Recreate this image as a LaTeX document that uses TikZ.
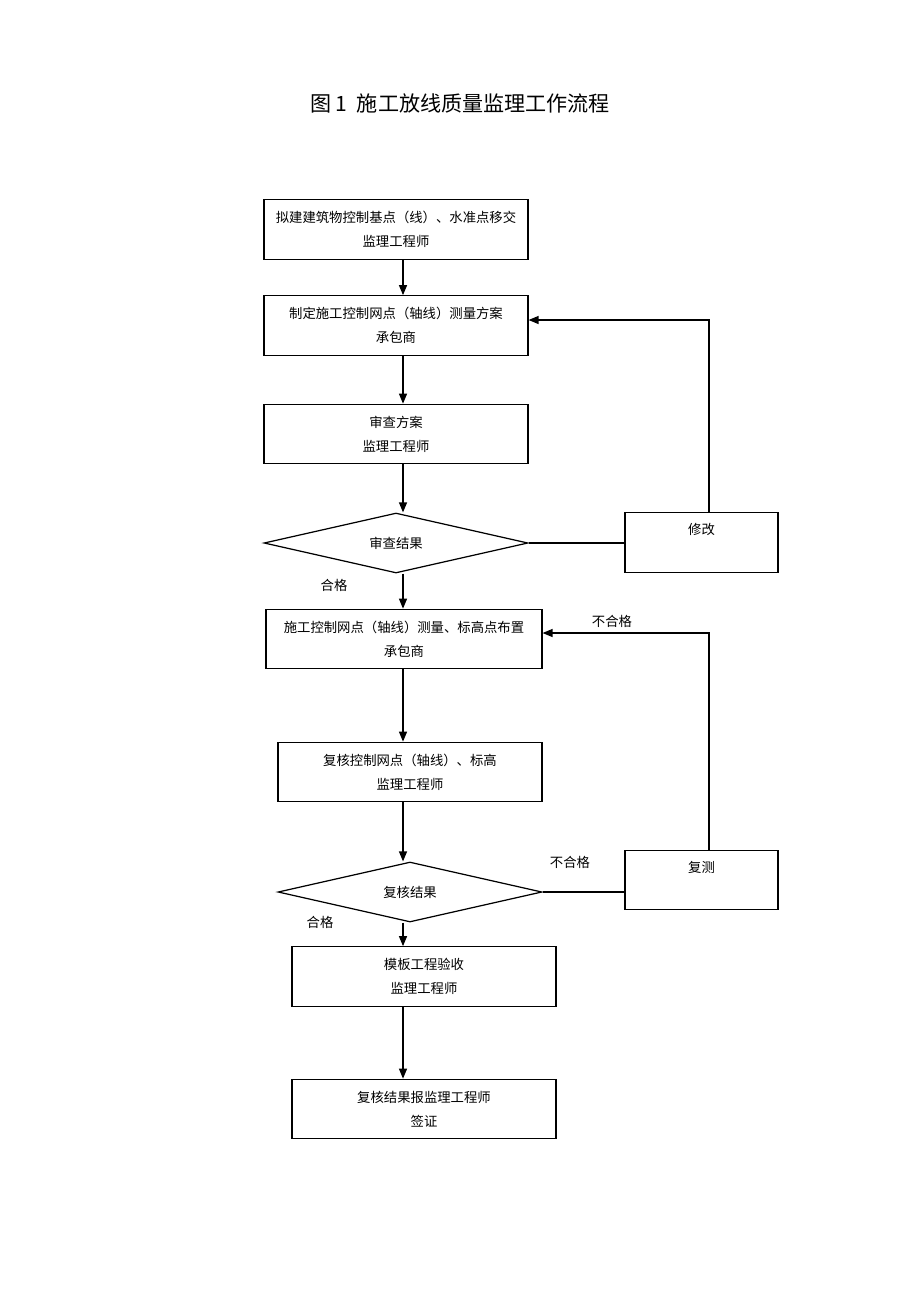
\documentclass[tikz,border=0pt]{standalone}
\usepackage{fontspec}
\setmainfont{Noto Sans CJK SC}
\usetikzlibrary{arrows.meta,shapes.geometric}

\begin{document}
\begin{tikzpicture}[x=0.02cm, y=-0.02cm,
    txt/.style={font=\fontsize{7.6}{13.7}\selectfont, align=center, inner sep=0pt},
    box/.style={txt, draw, line width=0.7pt, minimum width=5.28cm, minimum height=1.19cm},
    sidebox/.style={box, minimum width=3.06cm},
    check/.style={txt, draw, line width=0.7pt, shape=diamond, aspect=4, minimum width=5.28cm, minimum height=1.2cm},
    line/.style={line width=0.7pt},
    arr/.style={line, -{Triangle[length=0.2cm, width=0.16cm]}}]
    \useasboundingbox (0,0) rectangle (920,1302);

    % 标题
    \node[font=\fontsize{12}{14}\selectfont] (title) at (460,103) {图 1\ \ 施工放线质量监理工作流程};

    % 主流程
    \node[box] (b1) at (396,229.5) {拟建建筑物控制基点（线）、水准点移交\\监理工程师};
    \node[box] (b2) at (396,325.5) {制定施工控制网点（轴线）测量方案\\承包商};
    \node[box] (b3) at (396,434) {审查方案\\监理工程师};
    \node[check] (d1) at (396,543) {审查结果};
    \node[box, minimum width=5.52cm] (b4) at (404,639) {施工控制网点（轴线）测量、标高点布置\\承包商};
    \node[box] (b5) at (410,772) {复核控制网点（轴线）、标高\\监理工程师};
    \node[check] (d2) at (410,892) {复核结果};
    \node[box] (b6) at (424,976.5) {模板工程验收\\监理工程师};
    \node[box] (b7) at (424,1109) {复核结果报监理工程师\\签证};

    % 右侧
    \node[sidebox, label={[txt, anchor=center, yshift=-0.35cm]north:修改}] (fix) at (701.5,542.5) {};
    \node[sidebox, label={[txt, anchor=center, yshift=-0.36cm]north:复测}] (redo) at (701.5,880) {};

    % 标注
    \node[txt] (ok1) at (334,585) {合格};
    \node[txt] (ok2) at (320,922) {合格};
    \node[txt] (ng1) at (612,621) {不合格};
    \node[txt] (ng2) at (570,862) {不合格};

    % 连线
    \coordinate (spine) at (403,0);
    \coordinate (back1) at (709,320);
    \coordinate (back2) at (709,633);
    \draw[arr] (b1.south -| spine) -- (b2.north -| spine);
    \draw[arr] (b2.south -| spine) -- (b3.north -| spine);
    \draw[arr] (b3.south -| spine) -- (d1.north -| spine);
    \draw[arr] (d1.south -| spine) -- (b4.north -| spine);
    \draw[arr] (b4.south -| spine) -- (b5.north -| spine);
    \draw[arr] (b5.south -| spine) -- (d2.north -| spine);
    \draw[arr] (d2.south -| spine) -- (b6.north -| spine);
    \draw[arr] (b6.south -| spine) -- (b7.north -| spine);
    \draw[line] (d1.east) -- (d1.east -| fix.west);
    \draw[line] (d2.east) -- (d2.east -| redo.west);
    \draw[arr] (fix.north -| back1) -- (back1) -- (back1 -| b2.east);
    \draw[arr] (redo.north -| back2) -- (back2) -- (back2 -| b4.east);
\end{tikzpicture}
\end{document}
